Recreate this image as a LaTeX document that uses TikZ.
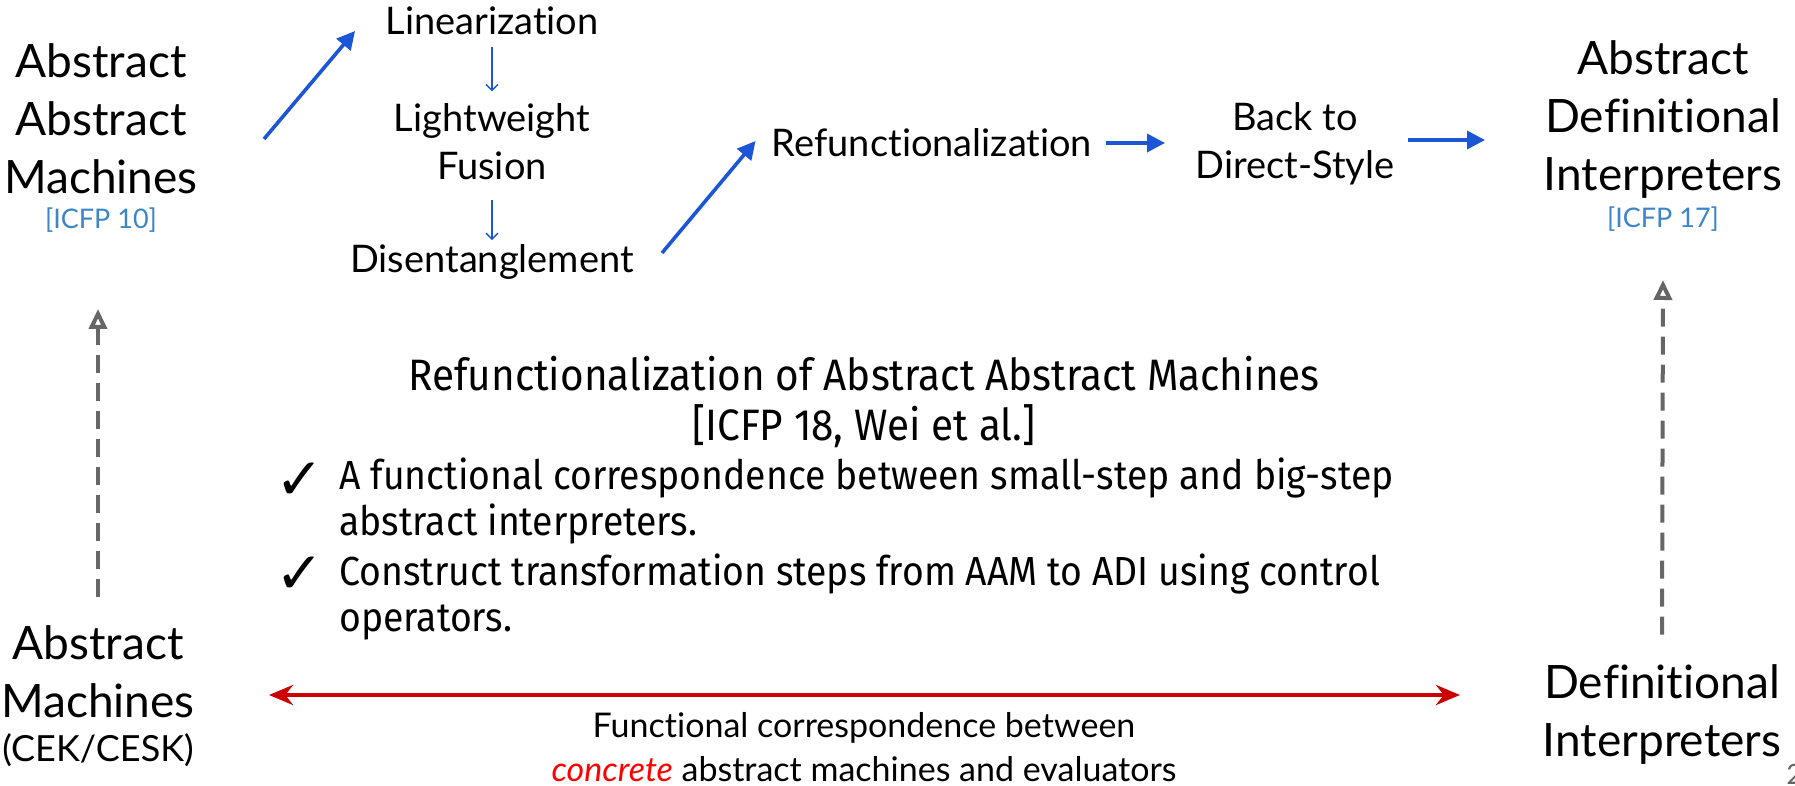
\documentclass[tikz,border=0pt]{standalone}
\usepackage{fontspec}
\setmainfont{Lato}[Ligatures={NoCommon}]
\newfontfamily\bodyfont[FakeStretch=0.92]{Fira Sans}
\newfontfamily\symfont{DejaVu Sans}
\usetikzlibrary{arrows.meta}
\definecolor{flowblue}{HTML}{1A56D6}
\definecolor{refblue}{HTML}{3D85C6}
\definecolor{dashgrey}{HTML}{666666}
\definecolor{corrred}{HTML}{CC0000}
\definecolor{hotred}{HTML}{FF0000}
\tikzset{
  big/.style={align=center, inner sep=0pt, font=\fontsize{23}{29}\selectfont},
  mid/.style={align=center, inner sep=0pt, font=\fontsize{19}{24}\selectfont},
  cite/.style={inner sep=0pt, text=refblue, font=\fontsize{13.5}{16}\selectfont},
  flow/.style={draw=flowblue, line width=1.8pt, -{Triangle[length=9pt,width=9pt]}},
  smalldown/.style={draw=flowblue, line width=0.7pt, -{Straight Barb[length=3pt,width=6pt]}},
  lift/.style={draw=dashgrey, line width=2pt, dash pattern=on 9pt off 5pt, -{Triangle[open,length=10pt,width=9pt,line width=2pt]}},
  corr/.style={draw=corrred, line width=2pt, {Stealth[length=12pt,width=10pt]}-{Stealth[length=12pt,width=10pt]}},
  check/.style={anchor=base west, inner sep=0pt, font=\symfont\fontsize{29}{30}\selectfont},
  item/.style={anchor=base west, inner sep=0pt, align=left, font=\bodyfont\fontsize{20.3}{23}\selectfont},
}
\begin{document}
\begin{tikzpicture}[x=0.5pt, y=-0.5pt]
\useasboundingbox (0,0) rectangle (1795,786);
% corner boxes
\node[big] (aam) at (101,119) {Abstract\\Abstract\\Machines};
\node[cite] (icfp10) at (101,220) {[ICFP 10]};
\node[big] (adi) at (1663,120) {Abstract\\Definitional\\Interpreters};
\node[cite] (icfp17) at (1663,219) {[ICFP 17]};
\node[big] (am) at (98,672) {Abstract\\Machines};
\node[inner sep=0pt, font=\fontsize{18}{22}\selectfont] (cek) at (98,750) {(CEK/CESK)};
\node[big] (di) at (1662,715) {Definitional\\Interpreters};
% transformation pipeline
\node[mid] (lin) at (492,21) {Linearization};
\node[mid] (fus) at (492,142) {Lightweight\\Fusion};
\node[mid] (dis) at (492,262) {Disentanglement};
\node[mid] (refun) at (932,143) {Refunctionalization};
\node[mid] (back) at (1295,144) {Back to\\Direct-Style};
\coordinate (a1s) at (264,139);
\coordinate (a2s) at (662,253);
\draw[flow] (a1s) -- ([shift={(-30,10)}]lin.west);
\draw[smalldown] ([shift={(0,12)}]lin.south) -- ([shift={(0,-12)}]fus.north);
\draw[smalldown] ([shift={(0,19)}]fus.south) -- ([shift={(0,-4)}]dis.north);
\draw[flow] (a2s) -- ([shift={(-16,-2)}]refun.west);
\draw[flow] (1106,143) -- (1165,143);
\draw[flow] (1408,140) -- (1485,140);
% vertical lifts
\draw[lift] (am.north) ++(0,-28) -- (98,309);
\draw[lift] (di.north) ++(0,-30) -- (1663,280);
% central text
\node[inner sep=0pt, font=\bodyfont\fontsize{22}{26}\selectfont] (title) at (864,374) {Refunctionalization of Abstract Abstract Machines};
\node[inner sep=0pt, font=\bodyfont\fontsize{22}{26}\selectfont] (title2) at (864,426) {[ICFP 18, Wei et al.]};
\node[check] (chk1) at (275,499) {✓};
\node[item] (item1) at (339,535) {A functional correspondence between small-step and big-step\\abstract interpreters.};
\node[check] (chk2) at (275,593) {✓};
\node[item] (item2) at (339,631) {Construct transformation steps from AAM to ADI using control\\operators.};
% bottom correspondence
\coordinate (cl) at (269,695);
\coordinate (cr) at (1460,695);
\draw[corr] (cl) -- (cr);
\node[align=center, inner sep=0pt, font=\fontsize{17}{22}\selectfont] (fc) at (864,747) {Functional correspondence between\\\textcolor{hotred}{\itshape concrete} abstract machines and evaluators};
\node[anchor=west, inner sep=0pt, text=dashgrey, font=\fontsize{14}{16}\selectfont] (pg) at (1786,774) {2};
\end{tikzpicture}
\end{document}
